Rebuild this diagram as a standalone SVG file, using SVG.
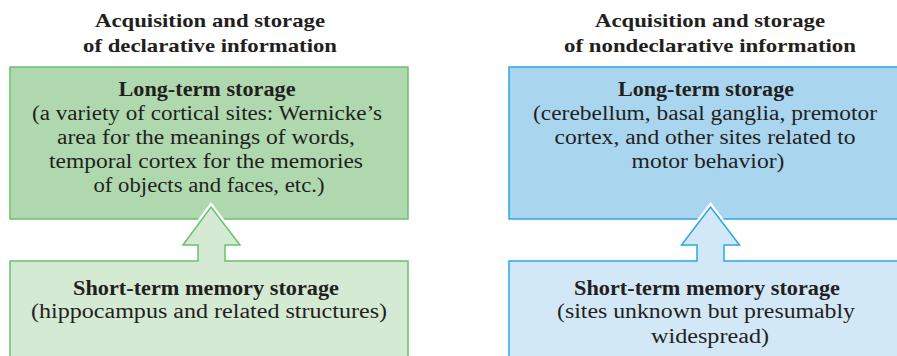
<svg xmlns="http://www.w3.org/2000/svg" width="897" height="356" viewBox="0 0 897 356">
  <style>
    text { font-family: "Liberation Serif", "Times New Roman", serif; fill: #231f20; text-anchor: middle; }
    .title { font-size: 19px; font-weight: bold; }
    .head { font-size: 20.5px; font-weight: bold; }
    .body { font-size: 20.5px; }
    .halo { fill: none; stroke: #ffffff; stroke-width: 6; stroke-linejoin: miter; }
    .g-long { fill: #afd8ae; stroke: #6cc070; stroke-width: 1.5; }
    .g-short { fill: #d5eAd3; stroke: #6cc070; stroke-width: 1.5; }
    .b-long { fill: #a9d5ef; stroke: #29a9e0; stroke-width: 1.5; }
    .b-short { fill: #d3e8f6; stroke: #29a9e0; stroke-width: 1.5; }
  </style>
  <rect width="897" height="356" fill="#ffffff"/>

  <!-- column headings -->
  <g id="title-declarative">
    <text class="title" x="210" y="27" textLength="230" lengthAdjust="spacingAndGlyphs">Acquisition and storage</text>
    <text class="title" x="210" y="52" textLength="254" lengthAdjust="spacingAndGlyphs">of declarative information</text>
  </g>
  <g id="title-nondeclarative">
    <text class="title" x="710" y="27" textLength="230" lengthAdjust="spacingAndGlyphs">Acquisition and storage</text>
    <text class="title" x="710" y="52" textLength="292" lengthAdjust="spacingAndGlyphs">of nondeclarative information</text>
  </g>

  <!-- long-term stores -->
  <g id="declarative-long-term">
    <rect class="g-long" x="10" y="67" width="398" height="152"/>
    <text class="head" x="207" y="96" textLength="177" lengthAdjust="spacingAndGlyphs">Long-term storage</text>
    <text class="body" x="207" y="120" textLength="350" lengthAdjust="spacingAndGlyphs">(a variety of cortical sites: Wernicke’s</text>
    <text class="body" x="206" y="144" textLength="298" lengthAdjust="spacingAndGlyphs">area for the meanings of words,</text>
    <text class="body" x="206" y="168" textLength="314" lengthAdjust="spacingAndGlyphs">temporal cortex for the memories</text>
    <text class="body" x="209" y="192" textLength="231" lengthAdjust="spacingAndGlyphs">of objects and faces, etc.)</text>
  </g>
  <g id="nondeclarative-long-term">
    <rect class="b-long" x="509" y="67" width="394" height="152"/>
    <text class="head" x="706" y="96" textLength="176" lengthAdjust="spacingAndGlyphs">Long-term storage</text>
    <text class="body" x="705" y="120" textLength="344" lengthAdjust="spacingAndGlyphs">(cerebellum, basal ganglia, premotor</text>
    <text class="body" x="705" y="144" textLength="301" lengthAdjust="spacingAndGlyphs">cortex, and other sites related to</text>
    <text class="body" x="708" y="168" textLength="153" lengthAdjust="spacingAndGlyphs">motor behavior)</text>
  </g>

  <!-- short-term stores, each merged with its upward arrow -->
  <g id="connectors">
    <path class="halo" d="M10,261 H198 V245 H183 L211,207 L240,245 H225 V261 H408 V362 H10 Z"/>
    <path class="halo" d="M509,261 H697 V245 H681.5 L710.5,207 L739.5,245 H724 V261 H903 V362 H509 Z"/>
  </g>
  <g id="declarative-short-term">
    <path class="g-short" d="M10,261 H198 V245 H183 L211,207 L240,245 H225 V261 H408 V362 H10 Z"/>
    <text class="head" x="206" y="295" textLength="266" lengthAdjust="spacingAndGlyphs">Short-term memory storage</text>
    <text class="body" x="209" y="318" textLength="356" lengthAdjust="spacingAndGlyphs">(hippocampus and related structures)</text>
  </g>
  <g id="nondeclarative-short-term">
    <path class="b-short" d="M509,261 H697 V245 H681.5 L710.5,207 L739.5,245 H724 V261 H903 V362 H509 Z"/>
    <text class="head" x="707" y="295" textLength="266" lengthAdjust="spacingAndGlyphs">Short-term memory storage</text>
    <text class="body" x="706" y="318" textLength="298" lengthAdjust="spacingAndGlyphs">(sites unknown but presumably</text>
    <text class="body" x="710" y="343" textLength="118" lengthAdjust="spacingAndGlyphs">widespread)</text>
  </g>
</svg>
